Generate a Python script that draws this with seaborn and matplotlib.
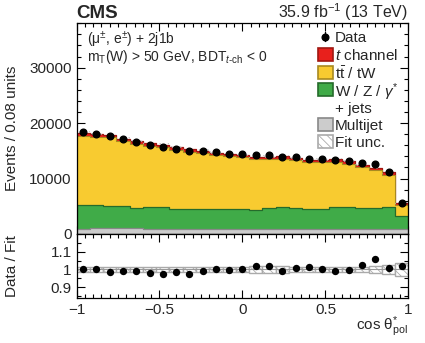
import numpy as np
import pandas as pd
import matplotlib
matplotlib.use("Agg")
import matplotlib.pyplot as plt
import seaborn as sns
from matplotlib.patches import Rectangle
from matplotlib.lines import Line2D
from matplotlib.ticker import MultipleLocator

# ---- data ----
bin_edges = [round(-1.0 + 0.08 * i, 2) for i in range(26)]
bin_centers = np.round((np.array(bin_edges[:-1]) + np.array(bin_edges[1:])) / 2, 2)

data_counts = [18320, 18080, 17660, 17060, 16580, 16100, 15740, 15370, 14950, 14900,
               14720, 14470, 14350, 14170, 14230, 13870, 13820, 13570, 13450, 13330,
               13150, 12790, 12670, 11170, 5640]
tchannel = [510, 510, 500, 500, 500, 490, 490, 480, 480, 480,
            480, 480, 480, 480, 480, 480, 480, 480, 490, 490,
            500, 500, 510, 530, 380]
ttbar_tw = [12570, 12360, 12350, 11680, 11540, 11050, 10770, 10590, 10270, 10060,
            9710, 9600, 9400, 9050, 8845, 8735, 8635, 8390, 8365, 8185,
            7895, 7365, 6705, 5765, 1910]
wz_jets = [4370, 4140, 4080, 4000, 3690, 3920, 4020, 3720, 3720, 3650,
           3650, 3570, 3590, 3530, 3775, 3955, 3775, 3650, 3715, 3955,
           3955, 3775, 3895, 3955, 2390]
multijet = [800, 1000, 1000, 1000, 1000, 950, 850, 850, 850, 850,
            850, 850, 850, 850, 850, 850, 850, 850, 850, 850,
            850, 850, 850, 850, 850]
ratio_values = [1.004, 1.004, 0.985, 0.993, 0.991, 0.981, 0.976, 0.983, 0.976, 0.991,
                1.002, 0.998, 1.002, 1.019, 1.020, 0.989, 1.006, 1.015, 1.002, 0.989,
                0.996, 1.024, 1.059, 1.006, 1.019]
fit_unc_rel = [0.013, 0.013, 0.013, 0.013, 0.013, 0.013, 0.013, 0.013, 0.013, 0.013,
               0.013, 0.013, 0.013, 0.018, 0.018, 0.018, 0.015, 0.015, 0.015, 0.015,
               0.015, 0.015, 0.018, 0.026, 0.036]

colors = {"t channel": "#e8201c", "ttbar": "#f8cb30", "WZ": "#40ab48", "Multijet": "#cccccc"}
edges_c = {"t channel": "#a01812", "ttbar": "#a88a20", "WZ": "#256b2b", "Multijet": "#888888"}

# ---- style ----
sns.set_theme(style="ticks")
plt.rcParams["font.family"] = ["Liberation Sans", "DejaVu Sans"]
plt.rcParams["mathtext.fontset"] = "custom"
plt.rcParams["mathtext.rm"] = "Liberation Sans"
plt.rcParams["mathtext.it"] = "Liberation Sans:italic"
plt.rcParams["mathtext.bf"] = "Liberation Sans:bold"
plt.rcParams["axes.unicode_minus"] = True
plt.rcParams["hatch.linewidth"] = 0.6

W, H = 425, 343
fig = plt.figure(figsize=(4.25, 3.43), dpi=100)
ax = fig.add_axes([0.18, 0.318, 0.781, 0.614])
rax = fig.add_axes([0.18, 0.132, 0.781, 0.186])

comp_vals = {"t channel": np.array(tchannel), "ttbar": np.array(ttbar_tw),
             "WZ": np.array(wz_jets), "Multijet": np.array(multijet)}
order_bottom_up = ["Multijet", "WZ", "ttbar", "t channel"]
cum = {}
running = np.zeros(len(bin_centers))
for c in order_bottom_up:
    running = running + comp_vals[c]
    cum[c] = running.copy()
total = cum["t channel"]

lw = {"t channel": 0.9, "ttbar": 0.8, "WZ": 0.9, "Multijet": 0.9}
for c in ["t channel", "ttbar", "WZ", "Multijet"]:
    df = pd.DataFrame({"x": bin_centers, "w": cum[c]})
    sns.histplot(data=df, x="x", weights="w", bins=bin_edges, element="step",
                 fill=True, color=colors[c], alpha=1.0, ax=ax,
                 edgecolor=edges_c[c], linewidth=lw[c])

unc_abs = total * np.array(fit_unc_rel)
ax.bar(bin_centers, 2 * unc_abs, bottom=total - unc_abs, width=0.08,
       facecolor="none", edgecolor="#bbbbbb", hatch="\\\\\\\\", linewidth=0.0)

ax.errorbar(bin_centers, data_counts, yerr=np.sqrt(data_counts), fmt="o",
            color="black", markersize=4.8, elinewidth=1, capsize=0, zorder=5)

ax.set_xlim(-1, 1)
ax.set_ylim(0, 38000)
ax.set_xlabel("")
ax.set_ylabel("Events / 0.08 units", fontsize=11)
ax.tick_params(labelbottom=False)
ax.yaxis.set_major_locator(MultipleLocator(10000))
ax.yaxis.set_minor_locator(MultipleLocator(2000))
ax.xaxis.set_major_locator(MultipleLocator(0.5))
ax.xaxis.set_minor_locator(MultipleLocator(0.05))

# ---- manual legend (figure pixel positions) ----
def fx(px):
    return px / W

def fy(py):
    return 1 - py / H

leg_entries = [
    ("marker", None, None, "Data", 36.7),
    ("patch", colors["t channel"], edges_c["t channel"], "$t$ channel", 54.5),
    ("patch", colors["ttbar"], edges_c["ttbar"], r"t$\bar{\rm t}$ / tW", 72.5),
    ("patch", colors["WZ"], edges_c["WZ"], r"W / Z / $\gamma^{*}$", 89.5),
    ("none", None, None, "+ jets", 107.0),
    ("patch", colors["Multijet"], edges_c["Multijet"], "Multijet", 124.5),
    ("hatch", "white", "#aaaaaa", "Fit unc.", 141.5),
]
px0, pw, ph = 317.5, 15.0, 13.0
for kind, fc, ec, lab, yc in leg_entries:
    if kind == "marker":
        fig.add_artist(Line2D([fx(px0 + pw / 2)], [fy(yc)], marker="o", color="black",
                              markersize=4.8, linestyle="none", transform=fig.transFigure))
        fig.add_artist(Line2D([fx(px0 + pw / 2)] * 2, [fy(yc - 4.5), fy(yc + 4.5)],
                              color="black", linewidth=1, transform=fig.transFigure))
    elif kind in ("patch", "hatch"):
        r = Rectangle((fx(px0), fy(yc + ph / 2)), pw / W, ph / H, facecolor=fc,
                      edgecolor=ec, linewidth=1.2, transform=fig.transFigure,
                      hatch="\\\\\\\\" if kind == "hatch" else None)
        fig.add_artist(r)
    fig.text(fx(335), fy(yc), lab, fontsize=11, ha="left", va="center_baseline")

fig.text(fx(87), fy(37), "(μ$^{\\pm}$, e$^{\\pm}$) + 2j1b", fontsize=10,
         va="center_baseline", ha="left")
fig.text(fx(87), fy(54.5), r"m$_{\rm T}$(W) > 50 GeV, BDT$_{t\text{-ch}}$ < 0",
         fontsize=10, va="center_baseline", ha="left")

fig.text(0.18, fy(18), "CMS", fontsize=13.5, fontweight="bold", ha="left", va="baseline")
fig.text(0.961, fy(18), r"35.9 fb$^{-1}$ (13 TeV)", fontsize=11.5, ha="right", va="baseline")

# ---- ratio panel ----
rdf = pd.DataFrame({"x": bin_centers, "r": ratio_values})
unc = np.array(fit_unc_rel)
rax.bar(bin_centers, 2 * unc, bottom=1 - unc, width=0.08,
        facecolor="white", edgecolor="#aaaaaa", hatch="\\\\\\\\", linewidth=1.0)
rax.axhline(1.0, color="#999999", linewidth=0.8, zorder=1)
sns.scatterplot(data=rdf, x="x", y="r", color="black", s=28, ax=rax, zorder=5,
                edgecolor="black", linewidth=0)
rax.errorbar(bin_centers, ratio_values,
             yerr=np.sqrt(data_counts) / total, fmt="none", ecolor="black",
             elinewidth=1, zorder=4)
rax.set_xlim(-1, 1)
rax.set_ylim(0.84, 1.2)
rax.xaxis.set_minor_locator(MultipleLocator(0.05))
rax.yaxis.set_minor_locator(MultipleLocator(0.05))
rax.set_yticks([0.9, 1.0, 1.1])
rax.set_yticklabels(["0.9", "1", "1.1"])
rax.set_xticks([-1, -0.5, 0, 0.5, 1])
rax.set_xticklabels(["\u22121", "\u22120.5", "0", "0.5", "1"])
rax.set_ylabel("Data / Fit", fontsize=11)
rax.set_xlabel("cos θ$^{*}_{\\rm pol}$", fontsize=11, ha="right")

for a in (ax, rax):
    a.tick_params(which="both", direction="in", top=True, right=True, labelsize=11,
                  width=0.8, color="black")
    a.tick_params(which="major", length=6)
    a.tick_params(which="minor", length=3)
    for s in a.spines.values():
        s.set_linewidth(0.9)
        s.set_color("black")

ax.yaxis.set_label_coords(-0.172, 0.5)
rax.yaxis.set_label_coords(-0.172, 0.5)
rax.xaxis.set_label_coords(1.0, -0.27)

fig.savefig("out.png", dpi=100)
